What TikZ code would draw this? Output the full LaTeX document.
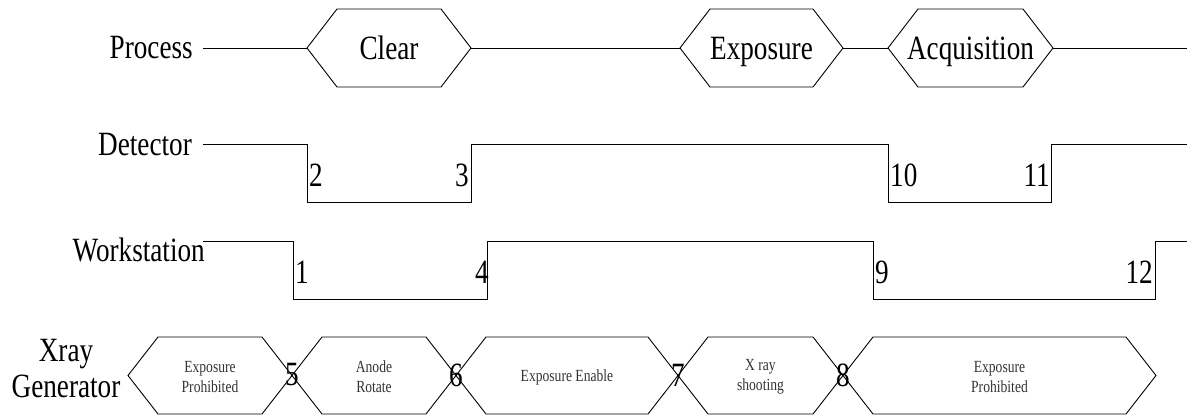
\documentclass[tikz,border=0pt]{standalone}
\usepackage{fontspec}
\setmainfont{Liberation Serif}[FakeStretch=0.8]

\tikzset{
    sig/.style={black,line width=1pt},
    bus/.style={black,line width=0.9pt},
    lbl/.style={font=\fontsize{34}{37}\selectfont,inner sep=0pt},
    note/.style={font=\fontsize{17}{20}\selectfont,text=black!80,align=center,inner sep=0pt},
}

\begin{document}
\begin{tikzpicture}[x=1pt,y=-1pt]
    \useasboundingbox (0,0) rectangle (1187,416);
    % row labels
    \node[lbl,anchor=base east] (proc) at (193,58) {Process};
    \node[lbl,anchor=base east] (det) at (192,155) {Detector};
    \node[lbl,anchor=base east] (work) at (205,261) {Workstation};
    \node[lbl,anchor=base] (xray) at (66,361) {Xray};
    \node[lbl,anchor=base] (gen) at (66,397) {Generator};

    % process phases
    \foreach \lx/\rx/\nm/\txt in {307/471/clear/Clear,680/843/expo/Exposure,888/1053/acq/Acquisition}{
        \draw[bus] (\lx,48) -- (\lx+30,9) -- (\rx-30,9) -- (\rx,48) -- (\rx-30,87) -- (\lx+30,87) -- cycle;
        \coordinate (\nm-l) at (\lx,48);
        \coordinate (\nm-r) at (\rx,48);
        \node[lbl,anchor=base] (\nm) at ({(\lx+\rx)/2},59) {\txt};
    }
    \coordinate (p0) at (203,48);
    \coordinate (p1) at (1187,48);
    \draw[sig] (p0) -- (clear-l) (clear-r) -- (expo-l) (expo-r) -- (acq-l) (acq-r) -- (p1);

    % detector and workstation levels
    \draw[sig] (203,144) -| (307,202) -| (471,144) -| (888,202) -| (1051,144) -- (1187,144);
    \draw[sig] (203,241) -| (293,299) -| (487,241) -| (873,299) -| (1155,241) -- (1187,241);

    % xray generator states
    \foreach \lx/\rx/\nm/\txt in {128/292/ep1/{Exposure\\Prohibited},292/456/ar/{Anode\\Rotate},456/678/ee/{Exposure Enable},678/843/xs/{X ray\\shooting},843/1156/ep2/{Exposure\\Prohibited}}{
        \draw[bus] (\lx,375.5) -- (\lx+30,337) -- (\rx-30,337) -- (\rx,375.5) -- (\rx-30,414) -- (\lx+30,414) -- cycle;
        \node[note] (\nm) at ({(\lx+\rx)/2},377) {\txt};
    }

    % step numbers
    \foreach \x/\y/\a/\t in {309/175/west/2,469/175/east/3,890/175/west/10,1050/175/east/11,295/272/west/1,482/272/center/4,875/272/west/9,1153/272/east/12,292/375/center/5,456/375/center/6,678/375/center/7,843/375/center/8}
        \node[lbl,anchor=\a] (s\t) at (\x,\y) {\t};
\end{tikzpicture}
\end{document}
